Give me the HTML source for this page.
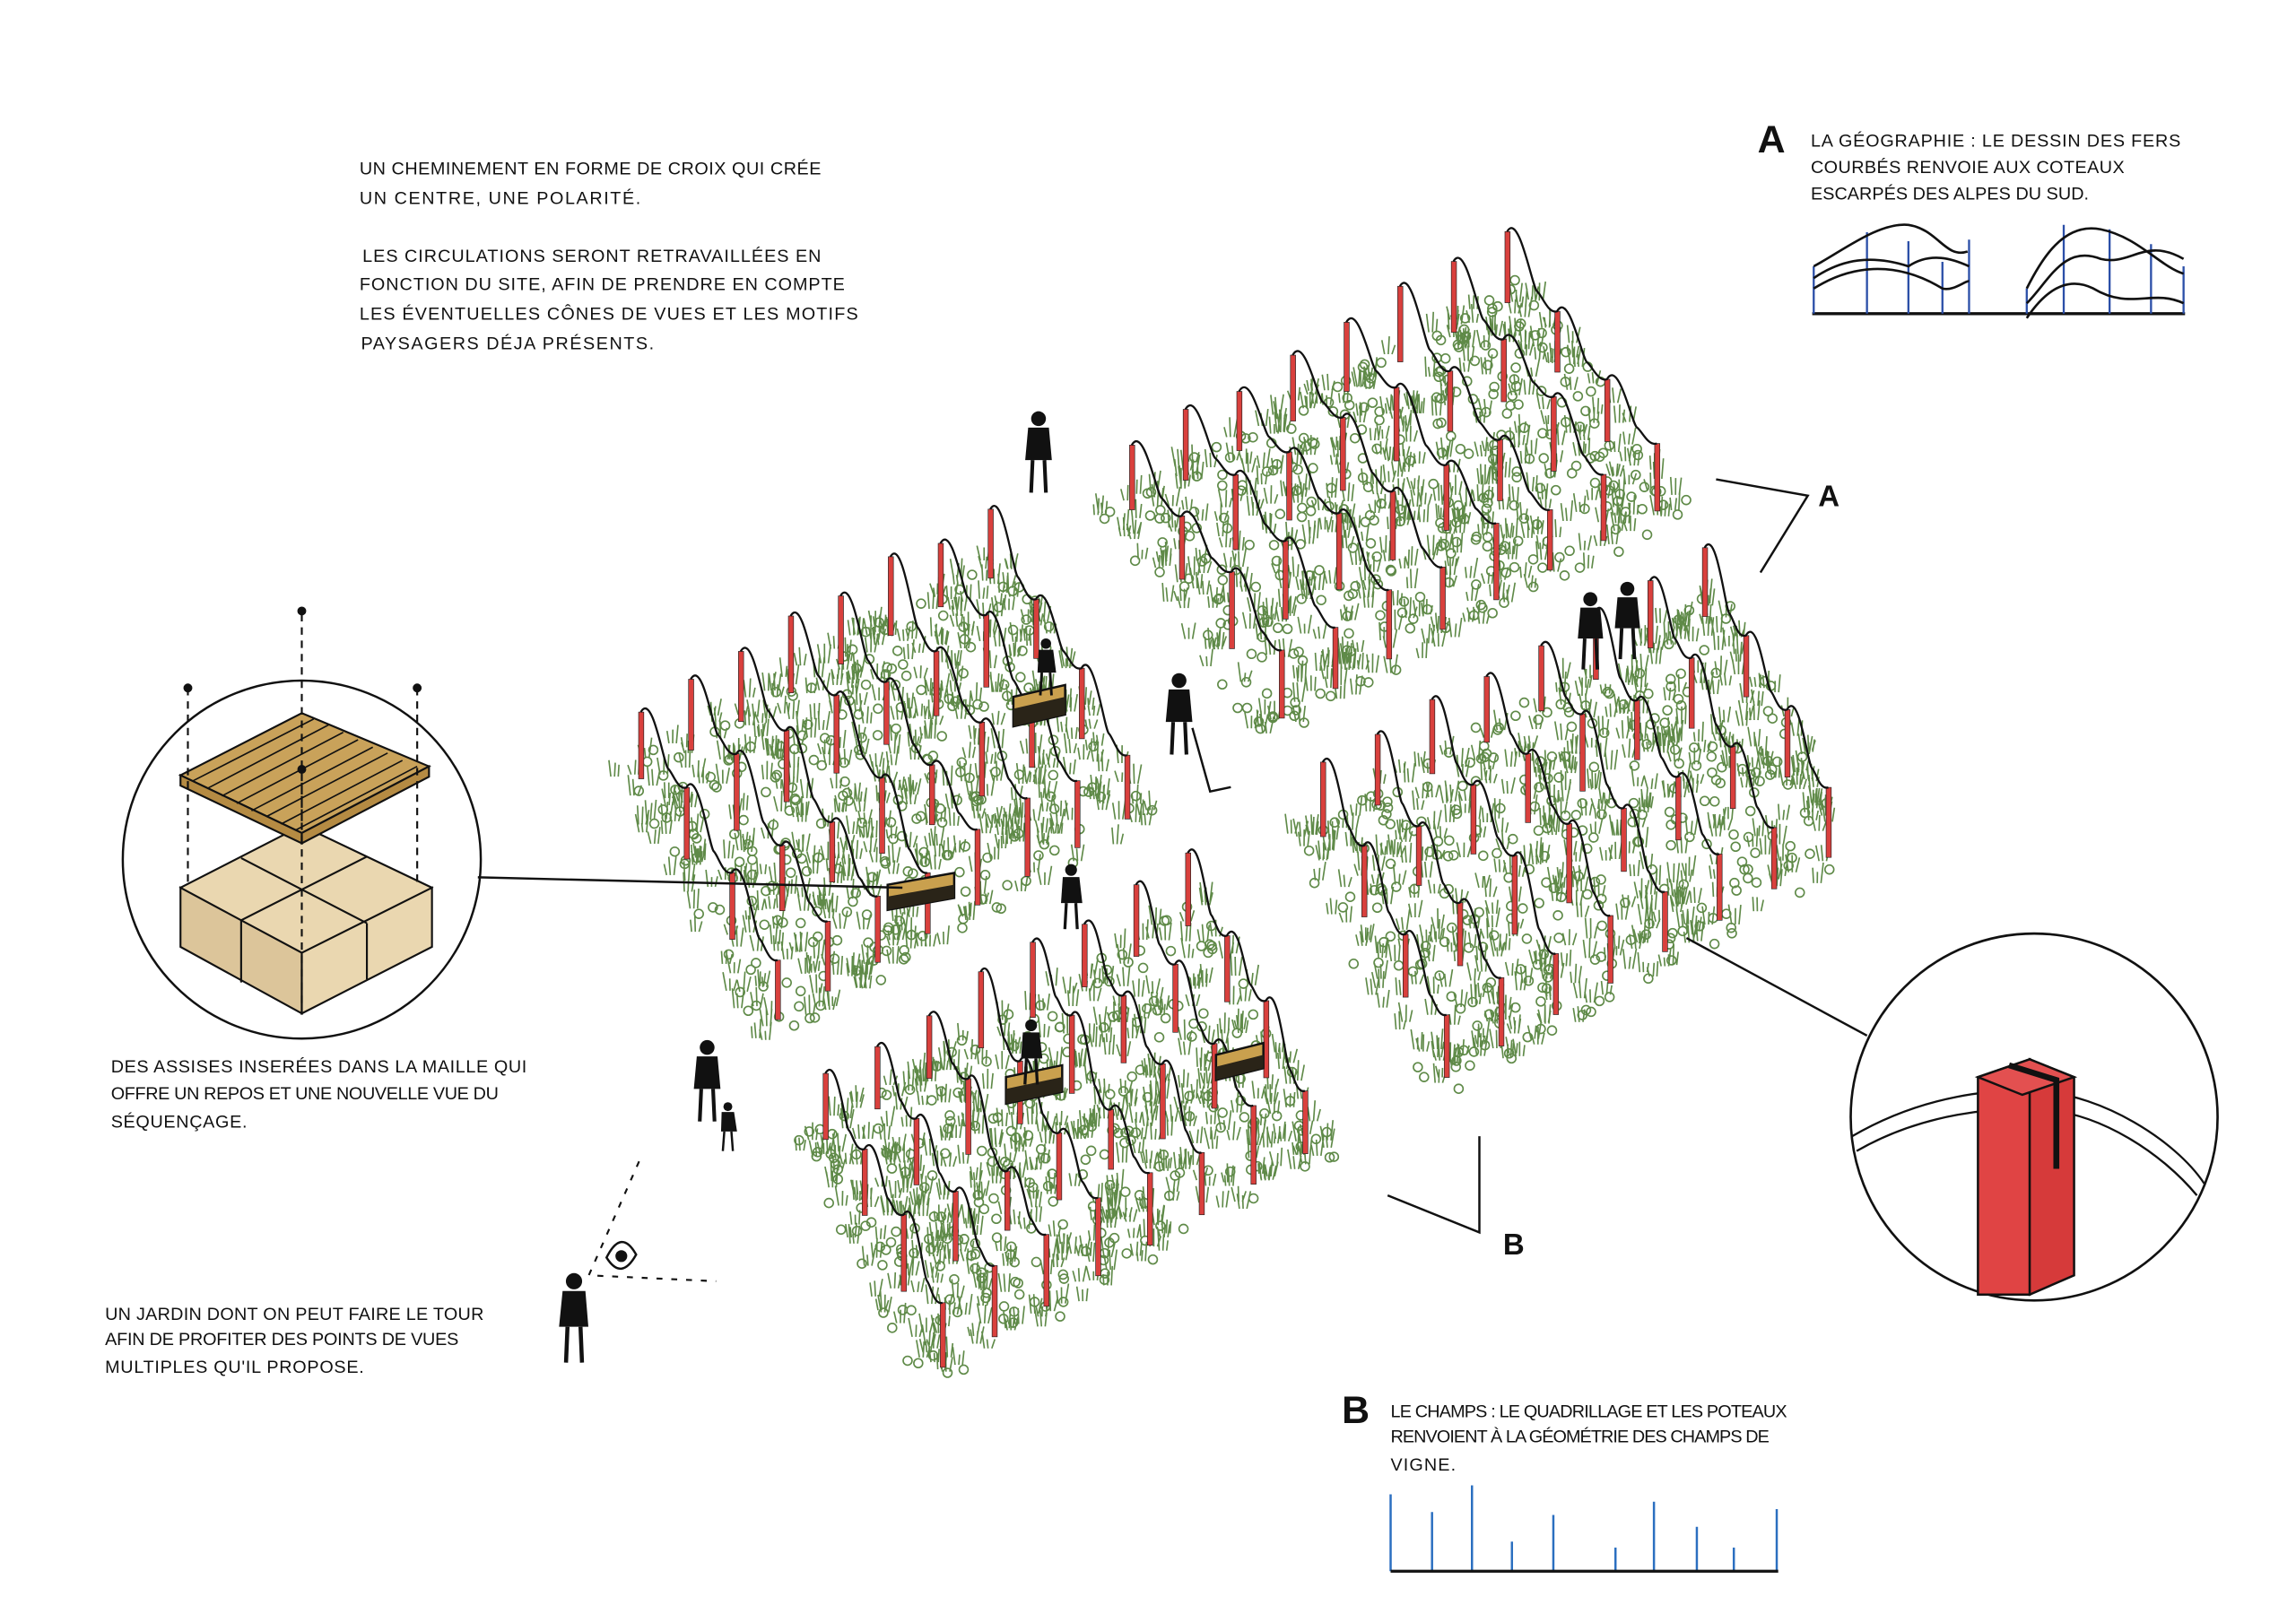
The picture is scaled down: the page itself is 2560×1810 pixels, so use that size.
<!DOCTYPE html>
<html><head><meta charset="utf-8"><style>
html,body{margin:0;padding:0;background:#fff;}
svg{display:block;}
text{font-family:"Liberation Sans",sans-serif;fill:#111;font-size:12px;}
</style></head><body>
<svg id="s" width="2560" height="1810" viewBox="0 0 1552 1097" preserveAspectRatio="none" xmlns="http://www.w3.org/2000/svg">
<rect width="1552" height="1097" fill="#fff"/>
<g id="plots"></g>
<text x="243" y="118" textLength="312">UN CHEMINEMENT EN FORME DE CROIX QUI CRÉE</text>
<text x="243" y="138" textLength="190">UN CENTRE, UNE POLARITÉ.</text>
<text x="245" y="177" textLength="310">LES CIRCULATIONS SERONT RETRAVAILLÉES EN</text>
<text x="243" y="196" textLength="328">FONCTION DU SITE, AFIN DE PRENDRE EN COMPTE</text>
<text x="243" y="216" textLength="337">LES ÉVENTUELLES CÔNES DE VUES ET LES MOTIFS</text>
<text x="244" y="236" textLength="198">PAYSAGERS DÉJA PRÉSENTS.</text>
<text x="1188" y="103" style="font-size:26px;font-weight:bold">A</text>
<text x="1224" y="99" textLength="250">LA GÉOGRAPHIE : LE DESSIN DES FERS</text>
<text x="1224" y="117" textLength="212">COURBÉS RENVOIE AUX COTEAUX</text>
<text x="1224" y="135" textLength="188">ESCARPÉS DES ALPES DU SUD.</text>
<text x="907" y="962" style="font-size:26px;font-weight:bold">B</text>
<text x="940" y="958" textLength="268">LE CHAMPS : LE QUADRILLAGE ET LES POTEAUX</text>
<text x="940" y="975" textLength="256">RENVOIENT À LA GÉOMÉTRIE DES CHAMPS DE</text>
<text x="940" y="994" textLength="44">VIGNE.</text>
<text x="75" y="725" textLength="281">DES ASSISES INSERÉES DANS LA MAILLE QUI</text>
<text x="75" y="743" textLength="262">OFFRE UN REPOS ET UNE NOUVELLE VUE DU</text>
<text x="75" y="762" textLength="92">SÉQUENÇAGE.</text>
<text x="71" y="892" textLength="256">UN JARDIN DONT ON PEUT FAIRE LE TOUR</text>
<text x="71" y="909" textLength="239">AFIN DE PROFITER DES POINTS DE VUES</text>
<text x="71" y="928" textLength="175">MULTIPLES QU'IL PROPOSE.</text>
<text x="1229" y="342" style="font-size:20px;font-weight:bold">A</text>
<text x="1016" y="848" style="font-size:20px;font-weight:bold">B</text>
<g fill="none" stroke-width="1.6">
<path d="M1225 212 H1477" stroke="#111" stroke-width="2"/>
<g stroke="#2b4fa8" stroke-width="1.4">
<path d="M1226 212V180M1262 212V157M1290 212V163M1313 212V177M1331 212V162M1370 212V195M1395 212V152M1426 212V155M1454 212V165M1476 212V180"/></g>
<g stroke="#111">
<path d="M1226 180 C1245 170 1270 150 1290 152 C1310 155 1315 175 1330 170"/>
<path d="M1226 188 C1245 175 1265 172 1290 180 C1305 170 1320 175 1331 180"/>
<path d="M1226 195 C1250 180 1280 175 1313 195 C1320 197 1328 190 1331 190"/>
<path d="M1370 195 C1380 175 1395 150 1420 155 C1445 160 1460 180 1476 185"/>
<path d="M1370 205 C1385 190 1395 165 1420 175 C1440 180 1450 160 1476 175"/>
<path d="M1370 215 C1380 200 1395 185 1415 195 C1440 210 1455 195 1476 205"/>
</g></g>
<g stroke="#2b6fc0" stroke-width="1.5">
<path d="M940 1062V1010M968 1062V1022M995 1062V1004M1022 1062V1042M1050 1062V1024M1092 1062V1046M1118 1062V1015M1147 1062V1032M1172 1062V1046M1201 1062V1020"/></g>
<path d="M940 1062H1202" stroke="#111" stroke-width="2"/>
<g stroke="#111" stroke-width="1.5" fill="none">
<path d="M1160 324 L1222 335 L1190 387"/>
<path d="M938 808 L1000 833 L1000 768"/>
<path d="M323 593 L610 600"/>
<path d="M1140 634 L1262 700"/>
</g>
<circle cx="204" cy="581" r="121" fill="none" stroke="#111" stroke-width="1.5"/>
<g stroke="#111" stroke-width="1.3">
<polygon points="122,600 204,558 292,600 204,685" fill="#ead7b0"/>
<polygon points="122,600 204,644 204,685 122,640" fill="#dcc59a"/>
<polygon points="204,644 292,600 292,640 204,685" fill="#ead7b0"/>
<path d="M163 580 L248 624 M248 579 L163 622 M163 622 V664 M248 624 V662" fill="none"/>
<polygon points="122,524 204,482 290,518 204,563" fill="#c9a25a"/>
<polygon points="122,524 204,563 204,570 122,531" fill="#b58b43"/>
<polygon points="204,563 290,518 290,525 204,570" fill="#b58b43"/>
<path d="M130 528 L212 486 M140 533 L222 490 M150 538 L232 495 M160 543 L242 500 M170 548 L252 505 M180 552 L262 509 M190 557 L272 514 M200 561 L282 518" fill="none" stroke-width="1"/>
<path d="M127 465V600M204 415V560M204 520V680M282 465V600" stroke-dasharray="5 4" fill="none"/>
</g>
<g fill="#111"><circle cx="127" cy="465" r="3"/><circle cx="204" cy="413" r="3"/><circle cx="282" cy="465" r="3"/><circle cx="204" cy="520" r="3"/></g>
<circle cx="1375" cy="755" r="124" fill="#fff" stroke="#111" stroke-width="1.6"/>
<path d="M1252 768 C1300 740 1350 735 1380 738 C1420 740 1470 770 1490 800" fill="none" stroke="#111" stroke-width="1.4"/>
<path d="M1255 778 C1300 752 1350 748 1380 750 C1420 752 1462 780 1485 808" fill="none" stroke="#111" stroke-width="1.4"/>
<polygon points="1337,728 1372,716 1372,875 1337,875" fill="#e04444" stroke="#111" stroke-width="1.5"/>
<polygon points="1372,716 1402,728 1402,862 1372,875" fill="#d63a3a" stroke="#111" stroke-width="1.5"/>
<polygon points="1337,728 1372,716 1402,728 1367,740" fill="#e35050" stroke="#111" stroke-width="1.5"/>
<path d="M1358 720 L1390 730 L1390 790" stroke="#111" stroke-width="4" fill="none"/>
<path d="M432 785 L398 862 L484 866" stroke="#111" stroke-width="1.3" fill="none" stroke-dasharray="4 6"/>
<path d="M410 850 Q420 830 430 848 Q420 866 410 850 Z" fill="#fff" stroke="#111" stroke-width="1.5"/>
<circle cx="420" cy="849" r="4" fill="#111"/>
<g id="people" fill="#111"></g>
</svg>
<script>
(function(){
var NS="http://www.w3.org/2000/svg";
var seed=7;function r(){seed=(seed*16807)%2147483647;return (seed-1)/2147483646;}
var g=document.getElementById('plots');
function el(t,a,p){var e=document.createElementNS(NS,t);for(var k in a)e.setAttribute(k,a[k]);(p||g).appendChild(e);return e;}
var plots=[
 {A:[740,345],B:[1030,185],D:[855,505],rows:8,cols:4},
 {A:[410,525],B:[680,370],D:[515,710],rows:8,cols:4},
 {A:[870,565],B:[1165,395],D:[965,750],rows:8,cols:4},
 {A:[535,770],B:[815,605],D:[625,945],rows:8,cols:4}
];
plots.forEach(function(p){
 function P(u,v){return [p.A[0]+u*(p.B[0]-p.A[0])+v*(p.D[0]-p.A[0]),p.A[1]+u*(p.B[1]-p.A[1])+v*(p.D[1]-p.A[1])];}
 var d="";
 for(var i=0;i<750;i++){var q=P(r(),r());var x=q[0],y=q[1];
  if(r()<0.6){for(var k=0;k<3;k++){var dx=(k-1)*2.5;d+="M"+(x+dx).toFixed(1)+" "+y.toFixed(1)+"l"+(dx*0.6+(r()-0.5)*2).toFixed(1)+" "+(-6-r()*8).toFixed(1);}}
  else{d+="M"+(x-3).toFixed(1)+" "+y.toFixed(1)+"a3 3 0 1 1 6 0a3 3 0 1 1 -6 0";}
 }
 el('path',{d:d,stroke:'#5f8a48','stroke-width':'1',fill:'none'});
 for(var i=0;i<p.rows;i++){
  var u=(i+0.5)/p.rows;var tops=[];
  for(var j=0;j<p.cols;j++){var v=0.06+j*0.88/(p.cols-1);var b=P(u,v);var h=40+r()*14;
   el('rect',{x:b[0]-1.5,y:b[1]-h,width:3.5,height:h,fill:'#d9403d',stroke:'#222','stroke-width':'0.4'});
   tops.push([b[0],b[1]-h]);}
  var w="M"+tops[0][0]+" "+tops[0][1];
  for(var j=1;j<tops.length;j++){var a=tops[j-1],c=tops[j];
   w+=" C"+(a[0]+8)+" "+(a[1]-14)+" "+(a[0]+(c[0]-a[0])*0.5)+" "+(a[1]+(c[1]-a[1])*0.7)+" "+(a[0]+(c[0]-a[0])*0.6)+" "+(a[1]+(c[1]-a[1])*0.75)+" S"+(c[0]-6)+" "+(c[1]+2)+" "+c[0]+" "+c[1];}
  el('path',{d:w,stroke:'#111','stroke-width':'1.4',fill:'none'});
 }
});
[[685,463,35,28],[600,590,45,25],[680,720,38,26],[822,705,32,25]].forEach(function(b){
 el('polygon',{points:b[0]+","+(b[1]+8)+" "+(b[0]+b[2])+","+b[1]+" "+(b[0]+b[2])+","+(b[1]+b[3]-8)+" "+b[0]+","+(b[1]+b[3]),fill:'#c9a04e',stroke:'#111','stroke-width':'1.5'});
 el('polygon',{points:b[0]+","+(b[1]+16)+" "+(b[0]+b[2])+","+(b[1]+8)+" "+(b[0]+b[2])+","+(b[1]+b[3]-8)+" "+b[0]+","+(b[1]+b[3]),fill:'#2a2418'});
});
var pp=document.getElementById('people');
function person(x,y,s){
 el('circle',{cx:x,cy:y,r:5*s},pp);
 el('path',{d:"M"+(x-7*s)+" "+(y+6*s)+" h"+(14*s)+" l2 "+(22*s)+" h"+(-18*s)+"z"},pp);
 el('path',{d:"M"+(x-4*s)+" "+(y+28*s)+" l-1 "+(22*s)+" M"+(x+4*s)+" "+(y+28*s)+" l1 "+(22*s),stroke:'#111','stroke-width':2.5*s,fill:'none'},pp);
}
person(702,283,1);person(1075,405,0.95);person(1100,398,0.95);person(797,460,1);
person(724,588,0.8);person(478,708,1);person(492,748,0.6);person(388,866,1.1);person(697,693,0.8);person(707,435,0.7);
el('path',{d:"M806 492 L818 535 L832 532",stroke:'#111','stroke-width':'1.5',fill:'none'},pp);
})();
</script>
</body></html>
